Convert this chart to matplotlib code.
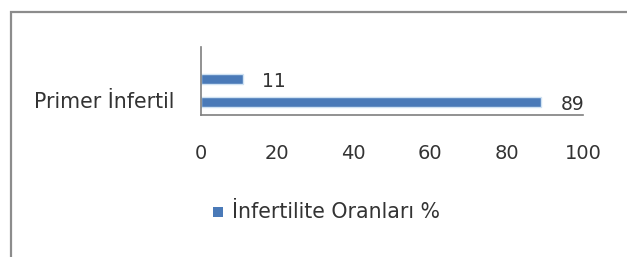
import matplotlib
matplotlib.use('Agg')
import matplotlib.pyplot as plt
from matplotlib.patches import Rectangle

# chart data
categories = ['Primer İnfertil', '']
values = [89, 11]
series_name = 'İnfertilite Oranları %'
x_ticks = [0, 20, 40, 60, 80, 100]

bar_color = '#4a7ab8'
text_color = '#333333'

plt.rcParams['font.family'] = ['DejaVu Sans']

fig = plt.figure(figsize=(6.27, 2.57), dpi=100)

# outer frame of the chart area (runs off the right and bottom edges)
fig.patches.append(Rectangle((11 / 627, -0.1), 1.0, (257 - 12) / 257 + 0.1,
                             transform=fig.transFigure, fill=False,
                             edgecolor='#8c8c8c', linewidth=1.6))

ax = fig.add_axes([201 / 627, 142 / 257, 382 / 627, 68 / 257])
ypos = list(range(len(values)))
ax.barh(ypos, values, height=0.47, color=bar_color,
        edgecolor='#cfe2f3', linewidth=1.0)

for y, v in zip(ypos, values):
    ax.annotate(str(v), (v, y), xytext=(14, -2), textcoords='offset points',
                ha='left', va='center', fontsize=13.5, color=text_color)

ax.set_xlim(0, 100)
ax.set_ylim(-0.565, 2.39)
ax.set_xticks(x_ticks)
ax.set_xticklabels([str(t) for t in x_ticks])
ax.set_yticks(ypos)
ax.set_yticklabels(categories)
ax.tick_params(axis='x', length=0, pad=21, labelsize=14, colors=text_color)
ax.tick_params(axis='y', length=0, pad=19, labelsize=14.8, colors=text_color)
for lab in ax.get_yticklabels():
    lab.set_va('center')

for side in ['top', 'right']:
    ax.spines[side].set_visible(False)
for side in ['left', 'bottom']:
    ax.spines[side].set_color('#7f7f7f')
    ax.spines[side].set_linewidth(1.2)

# legend
fig.patches.append(Rectangle((213 / 627, (257 - 217) / 257), 10 / 627, 10 / 257,
                             transform=fig.transFigure, facecolor=bar_color,
                             edgecolor='none'))
fig.text(232 / 627, (257 - 212) / 257, series_name, ha='left', va='center',
         fontsize=14.8, color=text_color)

fig.savefig('out.png', dpi=100, facecolor='white')
